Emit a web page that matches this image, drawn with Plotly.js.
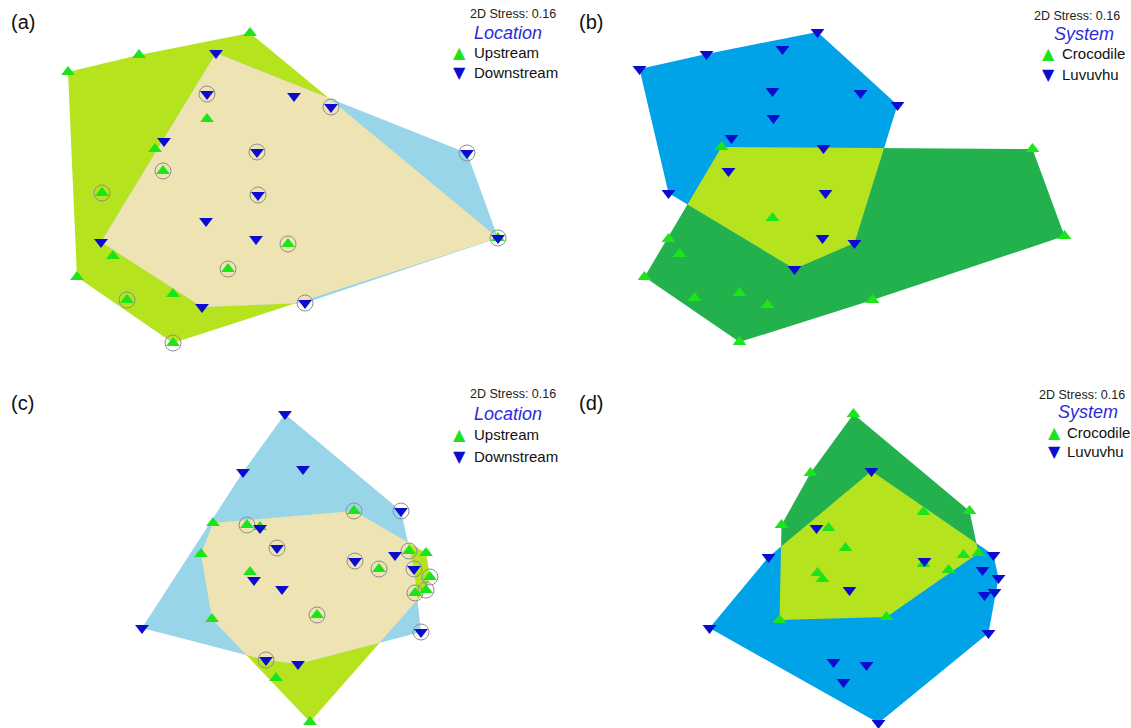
<!DOCTYPE html>
<html>
<head>
<meta charset="utf-8">
<script src="https://cdn.plot.ly/plotly-3.0.1.min.js"></script>
<style>
html,body{margin:0;padding:0;background:#ffffff;}
#chart{width:1131px;height:728px;}
</style>
</head>
<body>
<div id="chart"></div>
<script>
// ---------------- DATA (NMDS ordination scores, panel units; y up) ----------------
// Panel (a): Location
const aUpX = [68,139,250,207,155,163,102,113,77,127,173,173,228,288,498];
const aUpY = [292,309,331,245,215,193,171,108,87,64,70,21,95,120,126];
const aUpCirc = [0,0,0,0,0,1,1,0,0,1,0,1,1,1,0];
const aDnX = [216,207,294,331,164,257,467,258,206,256,101,498,202,305];
const aDnY = [311,270,268,257,223,212,211,169,143,125,122,126,57,61];
const aDnCirc = [0,1,0,1,0,1,1,1,0,0,0,1,0,1];

// Panel (b): System
const bCrX = [156,207,103,114,79,129,174,202,174,307,467,499];
const bCrY = [217,146,125,110,87,66,71,59,22,64,215,128];
const bLuX = [74,141,217,252,207,295,332,208,166,258,163,103,260,257,289,229];
const bLuY = [295,310,315,332,273,271,259,246,226,216,193,171,171,126,121,95];

// Panel (c): Location
const cUpX = [213,247,260,201,250,212,317,276,310,354,409,426,379,430,415,426];
const cUpY = [205,203,201,174,156,109,113,50,6,217,177,175,159,151,135,138];
const cUpCirc = [0,1,0,0,0,0,1,0,0,1,1,0,1,1,1,1];
const cDnX = [285,243,303,260,277,254,282,142,266,298,401,355,395,414,421];
const cDnY = [314,256,259,200,180,148,139,100,68,64,217,167,173,159,96];
const cDnCirc = [0,0,0,0,1,0,0,0,1,0,1,1,0,1,1];

// Panel (d): System
const dCrX = [288,245,216,263,280,252,257,214,321,358,404,398,413,383,358];
const dCrY = [314,255,203,200,180,155,149,108,111,216,217,173,175,158,164];
const dLuX = [306,251,203,284,144,268,301,278,313,359,428,417,433,429,419,423];
const dLuY = [257,200,171,138,100,66,63,46,5,167,173,158,150,136,133,95];

const stressText = "2D Stress: 0.16";
const panelLabels = ["(a)","(b)","(c)","(d)"];
const factorNames = ["Location","System","Location","System"];
const groupNames = [["Upstream","Downstream"],["Crocodile","Luvuvhu"],["Upstream","Downstream"],["Crocodile","Luvuvhu"]];

// ---------------- GEOMETRY HELPERS ----------------
function convexHull(xs, ys){
  const pts = xs.map((x,i)=>[x,ys[i]]).sort((p,q)=>p[0]-q[0]||p[1]-q[1]);
  const cross=(o,a,b)=>(a[0]-o[0])*(b[1]-o[1])-(a[1]-o[1])*(b[0]-o[0]);
  const lower=[];
  for(const p of pts){ while(lower.length>=2&&cross(lower[lower.length-2],lower[lower.length-1],p)<=0) lower.pop(); lower.push(p); }
  const upper=[];
  for(let i=pts.length-1;i>=0;i--){ const p=pts[i]; while(upper.length>=2&&cross(upper[upper.length-2],upper[upper.length-1],p)<=0) upper.pop(); upper.push(p); }
  return lower.slice(0,-1).concat(upper.slice(0,-1)); // CCW
}
function clipPolygon(subject, clipper){
  let output = subject.slice();
  for(let i=0;i<clipper.length;i++){
    const A=clipper[i], B=clipper[(i+1)%clipper.length];
    const input=output; output=[];
    if(!input.length) break;
    const inside=p=>(B[0]-A[0])*(p[1]-A[1])-(B[1]-A[1])*(p[0]-A[0])>=0;
    const inter=(P,Q)=>{
      const a1=B[1]-A[1], b1=A[0]-B[0], c1=a1*A[0]+b1*A[1];
      const a2=Q[1]-P[1], b2=P[0]-Q[0], c2=a2*P[0]+b2*P[1];
      const d=a1*b2-a2*b1;
      return [(b2*c1-b1*c2)/d,(a1*c2-a2*c1)/d];
    };
    let S=input[input.length-1];
    for(const E of input){
      if(inside(E)){ if(!inside(S)) output.push(inter(S,E)); output.push(E); }
      else if(inside(S)) output.push(inter(S,E));
      S=E;
    }
  }
  return output;
}

// ---------------- STYLE ----------------
const W=1131, H=728;
const GREEN_MK='#1be41b', BLUE_MK='#0c0cd0';
const palLoc={g1:'#b5e31d', g2:'#99d5e9', ov:'#eee3b2'};
const palSys={g1:'#22b14c', g2:'#00a2e8', ov:'#b5e31d'};
const FONT='Liberation Sans, Arial, sans-serif';

const panels=[
  {xa:'x', ya:'y', g1:[aUpX,aUpY,aUpCirc], g2:[aDnX,aDnY,aDnCirc], pal:palLoc},
  {xa:'x2',ya:'y2',g1:[bCrX,bCrY,null], g2:[bLuX,bLuY,null], pal:palSys},
  {xa:'x3',ya:'y3',g1:[cUpX,cUpY,cUpCirc], g2:[cDnX,cDnY,cDnCirc], pal:palLoc},
  {xa:'x4',ya:'y4',g1:[dCrX,dCrY,null], g2:[dLuX,dLuY,null], pal:palSys}
];

const traces=[];
function polyTrace(poly,color,p){
  const xs=poly.map(q=>q[0]), ys=poly.map(q=>q[1]);
  return {type:'scatter',mode:'lines',x:xs,y:ys,fill:'toself',fillcolor:color,
    line:{width:0,color:color},xaxis:p.xa,yaxis:p.ya,hoverinfo:'skip',showlegend:false};
}
panels.forEach((p,k)=>{
  const h1=convexHull(p.g1[0],p.g1[1]);
  const h2=convexHull(p.g2[0],p.g2[1]);
  const ov=clipPolygon(h1,h2);
  traces.push(polyTrace(h1,p.pal.g1,p));
  traces.push(polyTrace(h2,p.pal.g2,p));
  if(ov.length>2) traces.push(polyTrace(ov,p.pal.ov,p));
  [p.g1,p.g2].forEach(g=>{
    if(!g[2]) return;
    const cx=[],cy=[];
    g[2].forEach((f,i)=>{ if(f){cx.push(g[0][i]); cy.push(g[1][i]);} });
    traces.push({type:'scatter',mode:'markers',x:cx,y:cy,xaxis:p.xa,yaxis:p.ya,cliponaxis:false,
      marker:{symbol:'circle-open',size:16,color:'#8f8f8f',line:{width:1,color:'#8f8f8f'}},hoverinfo:'skip',showlegend:false});
  });
  traces.push({type:'scatter',mode:'markers',name:groupNames[k][0],x:p.g1[0],y:p.g1[1],xaxis:p.xa,yaxis:p.ya,cliponaxis:false,
    marker:{symbol:'triangle-up',size:12,color:GREEN_MK,line:{width:0}},showlegend:false});
  traces.push({type:'scatter',mode:'markers',name:groupNames[k][1],x:p.g2[0],y:p.g2[1],xaxis:p.xa,yaxis:p.ya,cliponaxis:false,
    marker:{symbol:'triangle-down',size:12,color:BLUE_MK,line:{width:0}},showlegend:false});
});

// ---------------- ANNOTATIONS ----------------
const px=v=>v/W, py=v=>1-v/H;
const ann=[];
function txt(x,y,text,size,anchor,extra){
  return Object.assign({xref:'paper',yref:'paper',x:px(x),y:py(y),text:text,showarrow:false,
    xanchor:anchor,yanchor:'middle',font:{family:FONT,size:size,color:'#111'}},extra||{});
}
const labelPos=[[9,22],[577,22],[9,403],[577,403]];
const legendPos=[
  {sr:558,sy:14, tc:508,ty:33, mx:459,tx:472,y1:53,y2:73},
  {sr:1122,sy:16, tc:1084,ty:34, mx:1048,tx:1060,y1:54,y2:75},
  {sr:558,sy:394, tc:508,ty:414, mx:459,tx:472,y1:434,y2:456},
  {sr:1127,sy:395, tc:1088,ty:412, mx:1054,tx:1065,y1:432,y2:451}
];
for(let k=0;k<4;k++){
  ann.push(txt(labelPos[k][0],labelPos[k][1],panelLabels[k],20,'left'));
  const L=legendPos[k];
  ann.push(txt(L.sr,L.sy,stressText,12.5,'right',{font:{family:FONT,size:12.5,color:'#222'}}));
  ann.push(txt(L.tc,L.ty,'<i>'+factorNames[k]+'</i>',18,'center',{font:{family:FONT,size:18,color:'#2b2bdc'}}));
  ann.push(txt(L.mx,L.y1,'\u25B2',16,'center',{font:{family:'DejaVu Sans',size:16,color:GREEN_MK}}));
  ann.push(txt(L.tx,L.y1,groupNames[k][0],15,'left'));
  ann.push(txt(L.mx,L.y2,'\u25BC',16,'center',{font:{family:'DejaVu Sans',size:16,color:BLUE_MK}}));
  ann.push(txt(L.tx,L.y2,groupNames[k][1],15,'left'));
}

// ---------------- LAYOUT ----------------
function ax(domain,range,anchor){
  return {domain:domain,range:range,anchor:anchor,visible:false,showgrid:false,zeroline:false,fixedrange:true};
}
const layout={
  width:W,height:H,margin:{l:0,r:0,t:0,b:0},paper_bgcolor:'#ffffff',plot_bgcolor:'rgba(0,0,0,0)',
  showlegend:false,font:{family:FONT},
  xaxis:ax([0,0.5],[0,565.5],'y'), yaxis:ax([0.5,1],[0,364],'x'),
  xaxis2:ax([0.5,1],[0,565.5],'y2'), yaxis2:ax([0.5,1],[0,364],'x2'),
  xaxis3:ax([0,0.5],[0,565.5],'y3'), yaxis3:ax([0,0.5],[0,364],'x3'),
  xaxis4:ax([0.5,1],[0,565.5],'y4'), yaxis4:ax([0,0.5],[0,364],'x4'),
  annotations:ann
};
Plotly.newPlot('chart',traces,layout,{displayModeBar:false,staticPlot:true});
</script>
</body>
</html>
